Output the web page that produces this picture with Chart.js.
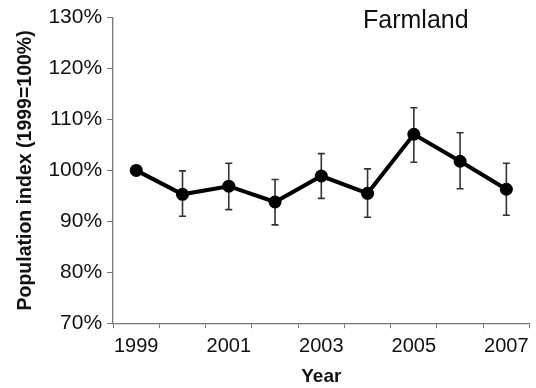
<!DOCTYPE html>
<html>
<head>
<meta charset="utf-8">
<script src="https://cdn.jsdelivr.net/npm/chart.js@4"></script>
<style>
    html, body { margin: 0; padding: 0; background: #fff; }
    #wrap { width: 536px; height: 388px; }
</style>
</head>
<body>
<div id="wrap"><canvas id="popChart" width="536" height="388"></canvas></div>
<script>
// --- Data ---
const years = ['1999', '2000', '2001', '2002', '2003', '2004', '2005', '2006', '2007'];
const popIndex = [100, 95.3, 96.9, 93.8, 98.9, 95.5, 107.1, 101.8, 96.3];
const errLow = [null, 91.0, 92.3, 89.3, 94.5, 90.8, 101.6, 96.4, 91.2];
const errHigh = [null, 99.9, 101.4, 98.2, 103.3, 100.3, 112.3, 107.4, 101.4];
const yTicks = [70, 80, 90, 100, 110, 120, 130];

// --- Error bars drawn through the chart scales ---
const errorBarPlugin = {
    id: 'errorBars',
    beforeDatasetsDraw(chart) {
        const ctx = chart.ctx;
        const x = chart.scales.x;
        const y = chart.scales.y;
        ctx.save();
        ctx.strokeStyle = '#333';
        ctx.lineWidth = 1.6;
        for (let i = 0; i < years.length; i++) {
            if (errLow[i] === null) continue;
            const px = x.getPixelForValue(i);
            const top = y.getPixelForValue(errHigh[i]);
            const bot = y.getPixelForValue(errLow[i]);
            ctx.beginPath();
            ctx.moveTo(px, top);
            ctx.lineTo(px, bot);
            ctx.moveTo(px - 3.5, top);
            ctx.lineTo(px + 3.5, top);
            ctx.moveTo(px - 3.5, bot);
            ctx.lineTo(px + 3.5, bot);
            ctx.stroke();
        }
        ctx.restore();
    }
};

// --- Panel label ---
const panelLabelPlugin = {
    id: 'panelLabel',
    afterDraw(chart) {
        const ctx = chart.ctx;
        ctx.save();
        ctx.font = '25px "Liberation Sans", Arial, sans-serif';
        ctx.fillStyle = '#111';
        ctx.textAlign = 'left';
        ctx.textBaseline = 'alphabetic';
        ctx.fillText('Farmland', 363, 28);
        ctx.restore();
    }
};

Chart.defaults.font.family = '"Liberation Sans", Arial, sans-serif';
Chart.defaults.color = '#111';

new Chart(document.getElementById('popChart'), {
    type: 'line',
    data: {
        labels: years,
        datasets: [{
            data: popIndex,
            borderColor: '#000',
            backgroundColor: '#000',
            borderWidth: 4,
            pointRadius: 6.5,
            pointBackgroundColor: '#000',
            pointBorderWidth: 0,
            tension: 0
        }]
    },
    options: {
        responsive: false,
        animation: false,
        layout: { padding: { left: 14, right: 6, top: 5, bottom: 0 } },
        plugins: {
            legend: { display: false },
            tooltip: { enabled: false }
        },
        scales: {
            x: {
                offset: true,
                grid: {
                    offset: true,
                    drawOnChartArea: false,
                    tickLength: 5,
                    color: '#777'
                },
                border: { color: '#777', width: 1.3 },
                ticks: {
                    autoSkip: false,
                    maxRotation: 0,
                    padding: 6,
                    font: { size: 20 },
                    callback: (v, i) => (i % 2 === 0 ? years[i] : '')
                },
                title: {
                    display: true,
                    text: 'Year',
                    font: { size: 19, weight: 'bold' },
                    padding: { top: 1, bottom: 0 }
                }
            },
            y: {
                min: 70,
                max: 130,
                afterBuildTicks: (axis) => { axis.ticks = yTicks.map(v => ({ value: v })); },
                grid: {
                    drawOnChartArea: false,
                    tickLength: 6,
                    color: '#777'
                },
                border: { color: '#777', width: 1.3 },
                ticks: {
                    padding: 5,
                    font: { size: 21 },
                    callback: (v) => v + '%'
                },
                title: {
                    display: true,
                    text: 'Population index (1999=100%)',
                    font: { size: 19.5, weight: 'bold' },
                    padding: { top: 0, bottom: 6 }
                }
            }
        }
    },
    plugins: [errorBarPlugin, panelLabelPlugin]
});
</script>
</body>
</html>
